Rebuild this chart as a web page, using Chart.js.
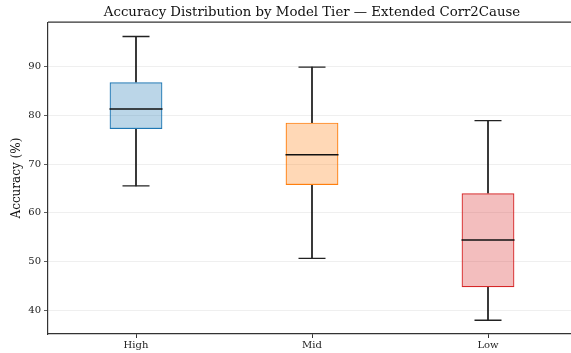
<!DOCTYPE html>
<html>
<head>
<meta charset="utf-8">
<script src="https://cdn.jsdelivr.net/npm/chart.js@4"></script>
<style>
  html, body { margin: 0; padding: 0; background: #fff; overflow: hidden; }
  #wrap { width: 571px; height: 353px; overflow: hidden; }
</style>
</head>
<body>
<div id="wrap"><canvas id="chart" width="576" height="353"></canvas></div>
<script>
// box plot summary per tier
const tiers = ['High', 'Mid', 'Low'];
const whiskerLow = [65.5, 50.6, 37.9];
const q1 = [77.2, 65.7, 44.7];
const medians = [81.3, 71.9, 54.4];
const q3 = [86.8, 78.5, 64.0];
const whiskerHigh = [96.2, 89.9, 78.9];
const yTicks = [40, 50, 60, 70, 80, 90];

const fills = ['rgba(31,119,180,0.3)', 'rgba(255,127,14,0.3)', 'rgba(214,39,40,0.3)'];
const edges = ['#1f77b4', '#ff7f0e', '#d62728'];

Chart.defaults.font.family = "'DejaVu Serif', 'Liberation Serif', serif";
Chart.defaults.color = '#222';

const pairs = (a, b) => a.map((v, i) => [v, b[i]]);

// top spine only (right spine falls outside the picture)
const frame = {
  id: 'frame',
  afterDraw(chart) {
    const { ctx, chartArea: a } = chart;
    ctx.save();
    ctx.strokeStyle = '#333';
    ctx.lineWidth = 1.2;
    ctx.beginPath();
    ctx.moveTo(a.left, a.top);
    ctx.lineTo(a.right, a.top);
    ctx.stroke();
    ctx.restore();
  }
};

new Chart(document.getElementById('chart'), {
  type: 'bar',
  data: {
    labels: tiers,
    datasets: [
      {
        type: 'line', label: 'median', data: medians, order: 0,
        showLine: false, pointStyle: 'line', pointRadius: 26.5,
        borderColor: '#111', borderWidth: 1.6
      },
      {
        type: 'line', label: 'cap low', data: whiskerLow, order: 1,
        showLine: false, pointStyle: 'line', pointRadius: 13.5,
        borderColor: '#222', borderWidth: 1.3
      },
      {
        type: 'line', label: 'cap high', data: whiskerHigh, order: 1,
        showLine: false, pointStyle: 'line', pointRadius: 13.5,
        borderColor: '#222', borderWidth: 1.3
      },
      {
        label: 'box', data: pairs(q1, q3), order: 2, grouped: false,
        categoryPercentage: 1, barPercentage: 0.3,
        backgroundColor: fills, borderColor: edges, borderWidth: 1.2, borderSkipped: false
      },
      {
        label: 'whisker low', data: pairs(whiskerLow, q1), order: 3, grouped: false,
        barThickness: 1, backgroundColor: '#111', borderWidth: 0
      },
      {
        label: 'whisker high', data: pairs(q3, whiskerHigh), order: 3, grouped: false,
        barThickness: 1, backgroundColor: '#111', borderWidth: 0
      }
    ]
  },
  options: {
    responsive: false,
    animation: false,
    layout: { padding: 0, autoPadding: false },
    plugins: {
      legend: { display: false },
      tooltip: { enabled: false },
      title: {
        display: true,
        fullSize: false,
        text: 'Accuracy Distribution by Model Tier \u2014 Extended Corr2Cause',
        color: '#111',
        font: { size: 13.3, weight: 'normal' },
        padding: { top: 5, bottom: 1.2 }
      }
    },
    scales: {
      x: {
        offset: true,
        grid: { display: true, drawOnChartArea: false, offset: false, tickLength: 4, tickColor: '#333' },
        border: { display: true, color: '#333', width: 1.2 },
        ticks: { font: { size: 10 }, color: '#222', padding: 1 },
        afterFit(s) { s.height = 19; }
      },
      y: {
        min: 35.07,
        max: 99.15,
        afterBuildTicks(s) { s.ticks = yTicks.map(v => ({ value: v })); },
        grid: { color: '#ebebeb', lineWidth: 0.8, tickLength: 4, tickColor: '#333' },
        border: { display: true, color: '#333', width: 1.2 },
        ticks: { font: { size: 10 }, color: '#222', padding: 3 },
        title: {
          display: true, text: 'Accuracy (%)', color: '#111',
          font: { size: 12 }, padding: { top: 10, bottom: 0 }
        },
        afterFit(s) { s.width = 48; }
      }
    }
  },
  plugins: [frame]
});
</script>
</body>
</html>
